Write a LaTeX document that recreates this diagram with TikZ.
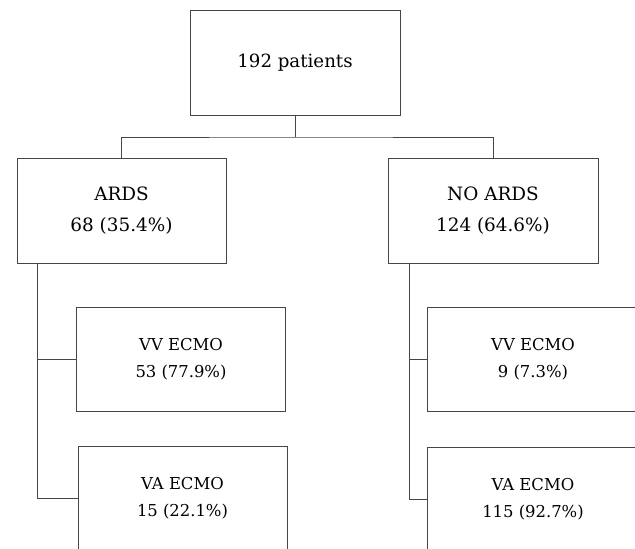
\documentclass[tikz,border=0pt]{standalone}
\usepackage{fontspec}
\setmainfont{DejaVu Serif}
\definecolor{linegray}{RGB}{70,70,70}
\begin{document}
\begin{tikzpicture}[x=1pt,y=-1pt,
  box/.style={draw=linegray,line width=1pt,align=center,inner sep=0pt,minimum width=209pt,minimum height=104pt},
  topfont/.style={font=\fontsize{18.2}{30}\selectfont},
  midfont/.style={font=\fontsize{18.4}{31}\selectfont},
  lowfont/.style={font=\fontsize{16.4}{27}\selectfont},
  conn/.style={draw=linegray,line width=1pt}]
\useasboundingbox (0,0) rectangle (635,549);
\clip (0,0) rectangle (635,549);
\node[box,topfont,minimum height=105pt,minimum width=210pt] (top) at (295,62.5) {192 patients};
\node[box,midfont,minimum height=105pt] (ards) at (121.5,210.5) {ARDS\\68 (35.4\%)};
\node[box,midfont,minimum height=105pt,minimum width=210pt] (noards) at (493,210.5) {NO ARDS\\124 (64.6\%)};
\node[box,lowfont] (vv1) at (181,359) {VV ECMO\\53 (77.9\%)};
\node[box,lowfont] (va1) at (182.5,498) {VA ECMO\\15 (22.1\%)};
\node[box,lowfont,minimum width=212pt] (vv2) at (533,359) {VV ECMO\\9 (7.3\%)};
\node[box,lowfont,minimum width=212pt] (va2) at (533,499) {VA ECMO\\115 (92.7\%)};
\coordinate (bus) at (295,137);
\coordinate (ls) at (37,263);
\coordinate (rs) at (409,263);
\draw[conn] (top.south) -- (bus);
\draw[conn] (ards.north) |- (bus) -| (noards.north);
\draw[conn] (ls) |- (vv1.west);
\draw[conn] (ls) |- (va1.west);
\draw[conn] (rs) |- (vv2.west);
\draw[conn] (rs) |- (va2.west);
\end{tikzpicture}
\end{document}
